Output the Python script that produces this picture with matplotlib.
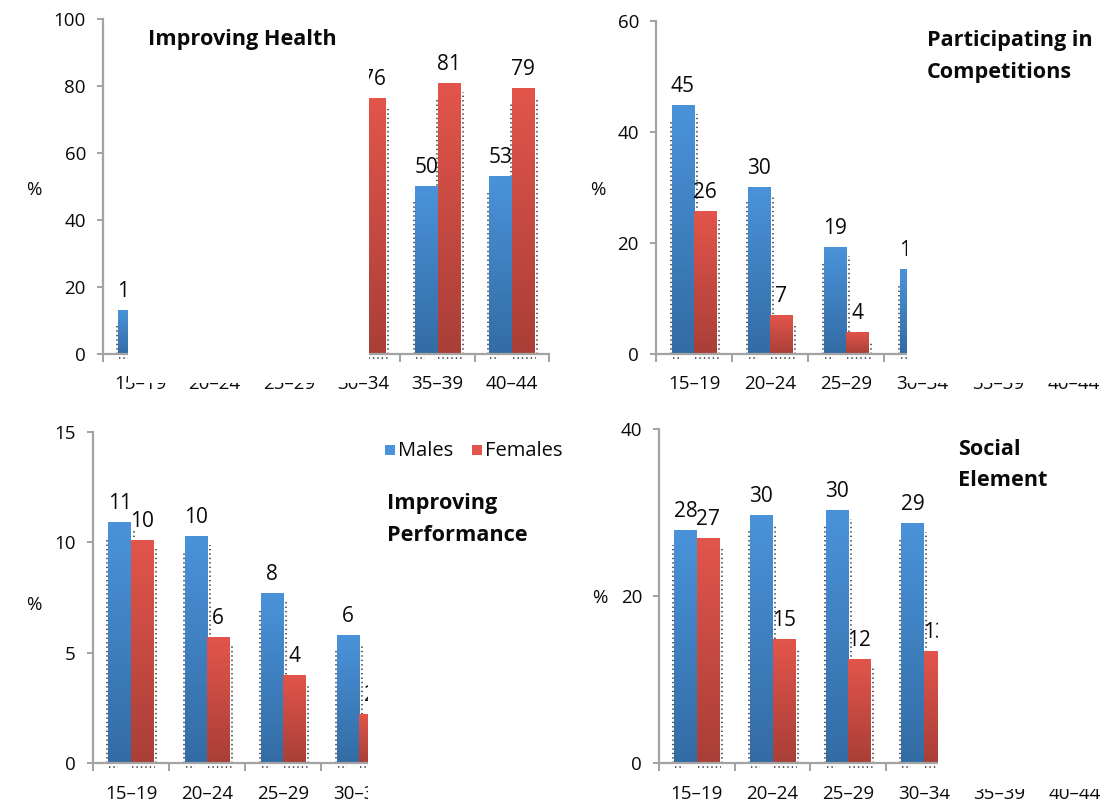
import numpy as np
import matplotlib
matplotlib.use("Agg")
import matplotlib.pyplot as plt
from matplotlib.patches import Rectangle
from matplotlib.colors import LinearSegmentedColormap

nan = np.nan

# ---- data -------------------------------------------------------------
age_groups = ["15–19", "20–24", "25–29", "30–34", "35–39", "40–44"]
series_names = ["Males", "Females"]

health_males = [13.2, nan, nan, nan, 50.1, 53.0]
health_females = [nan, nan, nan, 76.4, 81.0, 79.4]

competition_males = [44.8, 30.1, 19.3, 15.3, nan, nan]
competition_females = [25.7, 7.0, 4.0, nan, nan, nan]

performance_males = [10.9, 10.3, 7.7, 5.8, nan, nan]
performance_females = [10.1, 5.7, 4.0, 2.2, nan, nan]

social_males = [27.9, 29.7, 30.3, 28.8, nan, nan]
social_females = [27.0, 14.8, 12.4, 13.4, nan, nan]

# ---- figure -----------------------------------------------------------
W, H, DPI = 1112, 805, 100
FONT = "Open Sans"
plt.rcParams["font.family"] = [FONT, "DejaVu Sans"]

fig = plt.figure(figsize=(W / DPI, H / DPI), dpi=DPI)
fig.patch.set_facecolor("white")

PT = 72.0 / DPI  # points per pixel

BLUE = ("#336ca4", "#4a93da")   # bottom, top
RED = ("#a93f38", "#e2554b")
AXIS_GRAY = "#a3a3a3"
DOT = "#2e2e2e"
TXT = "#0a0a0a"


def px_rect(left, top, width, height):
    return [left / W, 1 - (top + height) / H, width / W, height / H]


def grad_bar(ax, x0, bw, v, colors, z):
    cont = ax.bar([x0], [v], width=bw, align="edge", color=colors[1],
                  linewidth=0, zorder=z)
    patch = cont.patches[0]
    cmap = LinearSegmentedColormap.from_list("g", list(colors))
    grad = np.linspace(0, 1, 128).reshape(-1, 1)
    im = ax.imshow(grad, extent=[x0, x0 + bw, 0, v], origin="lower",
                   cmap=cmap, aspect="auto", interpolation="bilinear",
                   zorder=z + 0.1)
    im.set_clip_path(patch)


def draw_panel(rect_px, males, females, ymax, step, label_pad, bar_px=22.5):
    left, top, width, height = rect_px
    ax = fig.add_axes(px_rect(left, top, width, height))
    n = len(age_groups)
    ux = n / width
    uy = ymax / height
    bw = bar_px * ux
    dots = dict(color=DOT, lw=1.1, ls=(0, (0.9, 2.0)), zorder=1)

    for i in range(n):
        c = i + 0.5
        for k, (vals, cols) in enumerate(((males, BLUE), (females, RED))):
            v = vals[i]
            if np.isnan(v):
                continue
            x0 = c - bw if k == 0 else c
            # dotted shadow edges
            if v - 15 * uy > 0:
                ax.plot([x0 - 1 * ux] * 2, [0, v - 15 * uy], **dots)
            if v - 9 * uy > 0:
                ax.plot([x0 + bw + 2.5 * ux] * 2, [0, v - 9 * uy], **dots)
            x_end = x0 + (10 * ux if k == 0 else bw + 2 * ux)
            ax.plot([x0 + 1 * ux, x_end], [-4 * uy] * 2, clip_on=False, **dots)
            grad_bar(ax, x0, bw, v, cols, 2 + k * 0.5)
            ax.annotate(f"{round(v)}", (x0 + bw / 2, v),
                        xytext=(0, 13 * PT), textcoords="offset points",
                        ha="center", va="baseline", fontsize=15,
                        color=TXT, zorder=5, annotation_clip=False)

    ax.set_xlim(0, n)
    ax.set_ylim(0, ymax)
    for s in ("top", "right"):
        ax.spines[s].set_visible(False)
    for s in ("left", "bottom"):
        ax.spines[s].set_color(AXIS_GRAY)
        ax.spines[s].set_linewidth(2.2 * PT)
        ax.spines[s].set_zorder(4)

    yt = np.arange(0, ymax + step / 2, step)
    ax.set_yticks(yt)
    ax.set_yticklabels([f"{int(t)}" for t in yt])
    ax.tick_params(axis="y", direction="out", length=6 * PT, width=2 * PT,
                   color=AXIS_GRAY, pad=11 * PT, labelsize=13.5,
                   labelcolor=TXT)

    ax.set_xticks(np.arange(0, n + 1))
    ax.set_xticklabels([])
    ax.set_xticks(np.arange(n) + 0.5, minor=True)
    ax.set_xticklabels(age_groups, minor=True)
    ax.tick_params(axis="x", which="major", direction="out", length=8 * PT,
                   width=2 * PT, color=AXIS_GRAY)
    ax.tick_params(axis="x", which="minor", length=0, pad=label_pad * PT,
                   labelsize=13.5, labelcolor=TXT)
    ax.set_facecolor("none")
    return ax


draw_panel((103, 19, 446, 335), health_males, health_females, 100, 20, 21)
draw_panel((656, 21, 456, 333), competition_males, competition_females, 60, 20, 21)
draw_panel((93, 432, 456, 331), performance_males, performance_females, 15, 5, 22)
draw_panel((659, 429, 454, 334), social_males, social_females, 40, 20, 22)

# percent axis captions
for (x, y) in ((34, 190), (598, 190), (34, 605), (600, 598)):
    fig.text(x / W, 1 - y / H, "%", ha="center", va="center", fontsize=13.5,
             color=TXT)

# white masks laid over parts of the panels
masks = [(128, 0, 369, 383), (907, 0, 1112, 383),
         (368, 395, 563, 805), (938, 395, 1112, 789)]
for (x0, y0, x1, y1) in masks:
    fig.add_artist(Rectangle((x0 / W, 1 - y1 / H), (x1 - x0) / W, (y1 - y0) / H,
                             transform=fig.transFigure, facecolor="white",
                             edgecolor="none", zorder=5))

# panel titles
titles = [(148, [45], ["Improving Health"]),
          (927, [46, 78], ["Participating in", "Competitions"]),
          (387, [509, 541], ["Improving", "Performance"]),
          (958, [455, 486], ["Social", "Element"])]
for x, ys, lines in titles:
    for y, t in zip(ys, lines):
        fig.text(x / W, 1 - y / H, t, ha="left", va="baseline", fontsize=15.6,
                 fontweight="bold", color=TXT, zorder=6)

# legend
leg_items = [(385, BLUE, series_names[0]), (472, RED, series_names[1])]
for x, cols, name in leg_items:
    fig.add_artist(Rectangle((x / W, 1 - 455 / H), 10 / W, 10 / H,
                             transform=fig.transFigure, facecolor=cols[1],
                             edgecolor="none", zorder=6))
    fig.text((x + 13) / W, 1 - 456 / H, name, ha="left", va="baseline",
             fontsize=14.5, color=TXT, zorder=6)
fig.add_artist(Rectangle((563 / W, 1 - 465 / H), 37 / W, 30 / H,
                         transform=fig.transFigure, facecolor="white",
                         edgecolor="none", zorder=7))

fig.savefig("out.png", dpi=DPI, facecolor="white")
